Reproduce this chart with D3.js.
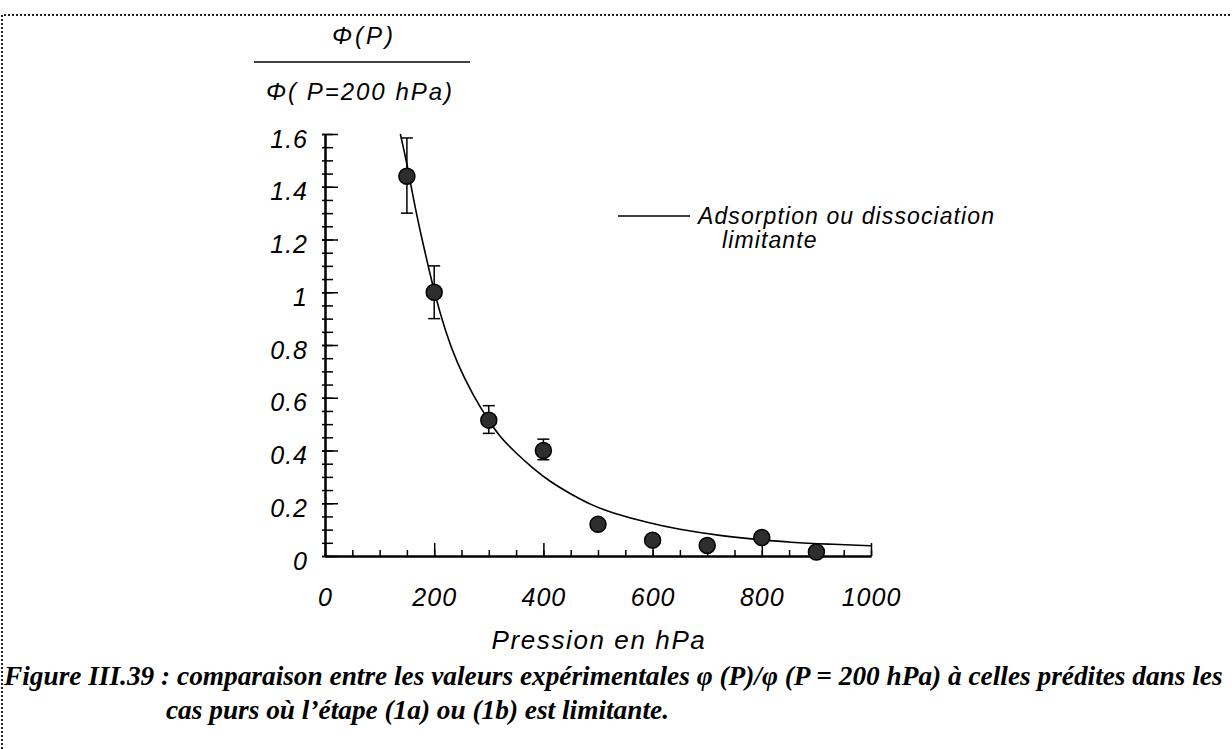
<!DOCTYPE html>
<html>
<head>
<meta charset="utf-8">
<script src="https://cdn.jsdelivr.net/npm/d3@7/dist/d3.min.js"></script>
<style>
  body { margin: 0; background: #fff; }
  svg { display: block; }
</style>
</head>
<body>
<svg id="chart"></svg>
<script>
const width = 1232, height = 749;
const sans = "'Liberation Sans', Arial, Helvetica, sans-serif";
const serif = "'Liberation Serif', 'Times New Roman', serif";

// measured points
const pressure = [150, 200, 300, 400, 500, 600, 700, 800, 900];
const ratio    = [1.44, 1.0, 0.515, 0.40, 0.12, 0.06, 0.04, 0.07, 0.015];
const errLow   = [1.30, 0.90, 0.465, 0.365, null, null, null, null, null];
const errHigh  = [1.585, 1.10, 0.57, 0.443, null, null, null, null, null];

// predicted curve
const fitPressure = [138, 150, 165, 180, 200, 220, 241, 272, 299, 320, 350, 381, 412, 450, 491, 528, 595, 644, 729, 799, 851, 920, 1000];
const fitRatio    = [1.6, 1.49, 1.32, 1.18, 1.0, 0.855, 0.735, 0.605, 0.516, 0.452, 0.39, 0.332, 0.282, 0.235, 0.19, 0.162, 0.124, 0.102, 0.075, 0.061, 0.052, 0.045, 0.039];

const xTicks = [0, 200, 400, 600, 800, 1000];
const yTicks = [0, 0.2, 0.4, 0.6, 0.8, 1, 1.2, 1.4, 1.6];
const yTickLabels = ["0", "0.2", "0.4", "0.6", "0.8", "1", "1.2", "1.4", "1.6"];

const legendLabel = ["Adsorption ou dissociation", "limitante"];
const xTitle = "Pression en hPa";
const yTitleTop = "\u03A6(P)";
const yTitleBottom = "\u03A6( P=200 hPa)";
const caption = [
  "Figure III.39 : comparaison entre les valeurs expérimentales \u03C6 (P)/\u03C6 (P = 200 hPa) à celles prédites dans les",
  "cas purs où l\u2019étape (1a) ou (1b) est limitante."
];

const svg = d3.select("#chart")
  .attr("width", width)
  .attr("height", height);

svg.append("rect").attr("width", width).attr("height", height).attr("fill", "#fff");

// dotted frame (top + left)
svg.append("path")
  .attr("d", `M2,${height} V15 H${width}`)
  .attr("fill", "none")
  .attr("stroke", "#222")
  .attr("stroke-width", 2)
  .attr("stroke-dasharray", "2,2");

const x = d3.scaleLinear().domain([0, 1000]).range([325, 871]);
const y = d3.scaleLinear().domain([0, 1.6]).range([556, 134]);

////////////////////////////////////
//             Axes               //
////////////////////////////////////

const xAxisG = svg.append("g").attr("transform", `translate(0,${y(0)})`);
xAxisG.append("g")
  .call(d3.axisBottom(x).tickValues(d3.range(0, 1001, 50)).tickSize(-6).tickSizeOuter(0).tickFormat(""));
xAxisG.append("g")
  .call(d3.axisBottom(x).tickValues(xTicks).tickSize(-13).tickSizeOuter(0).tickFormat(d3.format("d")))
  .call(g => g.selectAll("text")
    .attr("y", 50).attr("dy", null)
    .attr("font-family", sans).attr("font-size", 25).attr("font-style", "italic")
    .attr("letter-spacing", 1).attr("fill", "#000"));

const yAxisG = svg.append("g").attr("transform", `translate(${x(0)},0)`);
yAxisG.append("g")
  .call(d3.axisLeft(y).tickValues(d3.range(0, 1.6001, 0.05)).tickSize(-8).tickSizeOuter(0).tickFormat(""))
  .call(g => g.selectAll(".tick line").attr("x1", -3));
yAxisG.append("g")
  .call(d3.axisLeft(y).tickValues(yTicks).tickSize(-13).tickSizeOuter(0).tickFormat((d, i) => yTickLabels[i]))
  .call(g => g.selectAll(".tick line").attr("x1", -3))
  .call(g => g.selectAll("text")
    .attr("x", -17).attr("dy", 13)
    .attr("font-family", sans).attr("font-size", 25).attr("font-style", "italic")
    .attr("letter-spacing", 1).attr("fill", "#000"));

svg.selectAll(".domain").attr("stroke", "#000").attr("stroke-width", 2);
svg.selectAll(".tick line").attr("stroke", "#000").attr("stroke-width", 1.5);

// axis titles
svg.append("text")
  .attr("x", 599).attr("y", 649)
  .attr("text-anchor", "middle")
  .attr("font-family", sans).attr("font-size", 26).attr("font-style", "italic")
  .attr("letter-spacing", 1.6)
  .text(xTitle);

svg.append("text")
  .attr("x", 364).attr("y", 44)
  .attr("text-anchor", "middle")
  .attr("font-family", sans).attr("font-size", 24).attr("font-style", "italic")
  .attr("letter-spacing", 3)
  .text(yTitleTop);
svg.append("line")
  .attr("x1", 254).attr("x2", 470).attr("y1", 62).attr("y2", 62)
  .attr("stroke", "#000").attr("stroke-width", 1.5);
svg.append("text")
  .attr("x", 360).attr("y", 100)
  .attr("text-anchor", "middle")
  .attr("font-family", sans).attr("font-size", 24).attr("font-style", "italic")
  .attr("letter-spacing", 2)
  .text(yTitleBottom);

////////////////////////////////////
//        Curve + points          //
////////////////////////////////////

const fit = fitPressure.map((p, i) => [p, fitRatio[i]]);
svg.append("path")
  .datum(fit)
  .attr("d", d3.line().x(d => x(d[0])).y(d => y(d[1])).curve(d3.curveBasis))
  .attr("fill", "none")
  .attr("stroke", "#000")
  .attr("stroke-width", 1.6);

const points = pressure.map((p, i) => ({ p, v: ratio[i], lo: errLow[i], hi: errHigh[i] }));
const withErr = points.filter(d => d.lo !== null);

const bars = svg.selectAll("g.err").data(withErr).enter().append("g").attr("class", "err")
  .attr("stroke", "#000").attr("stroke-width", 1.5);
bars.append("line").attr("x1", d => x(d.p)).attr("x2", d => x(d.p)).attr("y1", d => y(d.lo)).attr("y2", d => y(d.hi));
bars.append("line").attr("x1", d => x(d.p) - 6).attr("x2", d => x(d.p) + 6).attr("y1", d => y(d.lo)).attr("y2", d => y(d.lo));
bars.append("line").attr("x1", d => x(d.p) - 6).attr("x2", d => x(d.p) + 6).attr("y1", d => y(d.hi)).attr("y2", d => y(d.hi));

svg.selectAll("circle.pt").data(points).enter().append("circle")
  .attr("class", "pt")
  .attr("cx", d => x(d.p))
  .attr("cy", d => y(d.v))
  .attr("r", 8)
  .attr("fill", "#2e2e2e")
  .attr("stroke", "#000")
  .attr("stroke-width", 1.5);

////////////////////////////////////
//            Legend              //
////////////////////////////////////

svg.append("line")
  .attr("x1", 618).attr("x2", 690).attr("y1", 216).attr("y2", 216)
  .attr("stroke", "#000").attr("stroke-width", 1.5);
svg.append("text")
  .attr("x", 698).attr("y", 224)
  .attr("font-family", sans).attr("font-size", 23).attr("font-style", "italic")
  .attr("letter-spacing", 1.1)
  .text(legendLabel[0]);
svg.append("text")
  .attr("x", 722).attr("y", 248)
  .attr("font-family", sans).attr("font-size", 23).attr("font-style", "italic")
  .attr("letter-spacing", 1.1)
  .text(legendLabel[1]);

////////////////////////////////////
//            Caption             //
////////////////////////////////////

const cap1 = svg.append("text")
  .attr("x", 4).attr("y", 685)
  .attr("font-family", serif).attr("font-size", 22)
  .attr("font-weight", "bold").attr("font-style", "italic")
  .text(caption[0]);
const w1 = cap1.node().getComputedTextLength();
const capSize = 22 * 1219 / w1;
cap1.attr("font-size", capSize);

svg.append("text")
  .attr("x", 166).attr("y", 719)
  .attr("font-family", serif).attr("font-size", capSize)
  .attr("font-weight", "bold").attr("font-style", "italic")
  .text(caption[1]);
</script>
</body>
</html>
